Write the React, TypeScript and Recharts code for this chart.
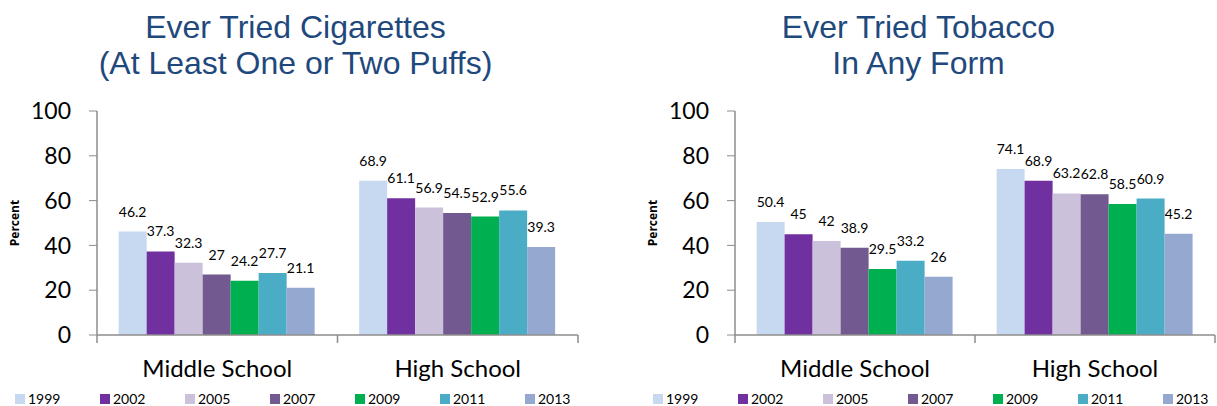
import { BarChart, Bar, XAxis, YAxis, LabelList } from "recharts";

const years = ["1999", "2002", "2005", "2007", "2009", "2011", "2013"];
const colors = ["#C6D9F1", "#7030A0", "#CCC1DA", "#725990", "#00B050", "#4BACC6", "#95A9D0"];
const schools = ["Middle School", "High School"];

// values per year: [middle school, high school]
const cigarettes = [
  [46.2, 68.9],
  [37.3, 61.1],
  [32.3, 56.9],
  [27, 54.5],
  [24.2, 52.9],
  [27.7, 55.6],
  [21.1, 39.3],
];
const tobacco = [
  [50.4, 74.1],
  [45, 68.9],
  [42, 63.2],
  [38.9, 62.8],
  [29.5, 58.5],
  [33.2, 60.9],
  [26, 45.2],
];
const yTicks = [0, 20, 40, 60, 80, 100];

const buildRows = (values: number[][]) =>
  schools.map((school, i) => {
    const row: Record<string, string | number> = { school };
    years.forEach((y, j) => {
      row[y] = values[j][i];
    });
    return row;
  });

const AXIS = "#8C8C8C";
const NUM_FONT = "Lato, 'Open Sans', sans-serif";
const LABEL_GAP = 25;

// category label plus tick marks on the category boundaries
const SchoolTick = (props: any) => {
  const { x, y, payload } = props;
  const half = payload.offset || 0;
  const axisY = y - LABEL_GAP;
  const isLast = payload.value === schools[schools.length - 1];
  return (
    <g>
      <line x1={x - half} y1={axisY} x2={x - half} y2={axisY + 8} stroke={AXIS} strokeWidth={1.5} />
      {isLast && <line x1={x + half} y1={axisY} x2={x + half} y2={axisY + 8} stroke={AXIS} strokeWidth={1.5} />}
      <text x={x} y={y} dy="0.71em" textAnchor="middle" fill="#000" fontSize={24} fontFamily={NUM_FONT}>
        {payload.value}
      </text>
    </g>
  );
};

interface PanelProps {
  title: string[];
  values: number[][];
  left: number;
  width: number;
  marginRight: number;
  titleShift: number;
}

const Panel = (props: PanelProps) => {
  const data = buildRows(props.values);
  return (
    <div style={{ position: "absolute", left: props.left, top: 0, width: props.width, height: 406 }}>
      <div
        style={{
          position: "absolute",
          top: 9,
          left: props.titleShift,
          width: props.width,
          textAlign: "center",
          fontFamily: "'Liberation Sans', Arial, sans-serif",
          fontSize: 32,
          lineHeight: "36px",
          color: "#1F497D",
        }}
      >
        {props.title.map((t) => (
          <div key={t}>{t}</div>
        ))}
      </div>
      <BarChart
        width={props.width}
        height={390}
        data={data}
        margin={{ top: 111, right: props.marginRight, left: 0, bottom: 0 }}
        barCategoryGap="9%"
        barGap={0}
        style={{ position: "absolute", top: 0, left: 0 }}
      >
        <XAxis
          dataKey="school"
          height={55}
          tickLine={false}
          axisLine={{ stroke: AXIS, strokeWidth: 1.5 }}
          tickSize={0}
          tickMargin={LABEL_GAP}
          tick={<SchoolTick />}
        />
        <YAxis
          width={97}
          domain={[0, 100]}
          ticks={yTicks}
          tickSize={8}
          tickMargin={18}
          stroke={AXIS}
          axisLine={{ stroke: AXIS, strokeWidth: 1.5 }}
          tick={{ fill: "#000", fontSize: 23, fontFamily: NUM_FONT }}
          label={{
            value: "Percent",
            angle: -90,
            position: "insideLeft",
            offset: 15,
            style: { textAnchor: "middle", fontSize: 12, fontWeight: "bold", fill: "#000", fontFamily: "'Open Sans', sans-serif" },
          }}
        />
        {years.map((y, i) => (
          <Bar key={y} dataKey={y} fill={colors[i]} isAnimationActive={false}>
            <LabelList
              dataKey={y}
              position="top"
              offset={15}
              style={{ fill: "#000", fontSize: 14, fontFamily: NUM_FONT }}
            />
          </Bar>
        ))}
      </BarChart>
      <div
        style={{
          position: "absolute",
          top: 392,
          left: 15,
          display: "flex",
          fontFamily: NUM_FONT,
          fontSize: 14,
          lineHeight: "14px",
          color: "#000",
        }}
      >
        {years.map((y, i) => (
          <div key={y} style={{ width: 85, display: "flex", alignItems: "center" }}>
            <span style={{ width: 10, height: 10, background: colors[i], marginRight: 3, display: "inline-block" }} />
            <span>{y}</span>
          </div>
        ))}
      </div>
    </div>
  );
};

export default function App() {
  return (
    <div style={{ position: "absolute", top: 0, left: 0, width: 1217, height: 406, background: "#fff", overflow: "hidden" }}>
      <Panel
        title={["Ever Tried Cigarettes", "(At Least One or Two Puffs)"]}
        values={cigarettes}
        left={0}
        width={595}
        marginRight={17}
        titleShift={-2}
      />
      <Panel
        title={["Ever Tried Tobacco", "In Any Form"]}
        values={tobacco}
        left={638}
        width={579}
        marginRight={2}
        titleShift={-9}
      />
    </div>
  );
}
